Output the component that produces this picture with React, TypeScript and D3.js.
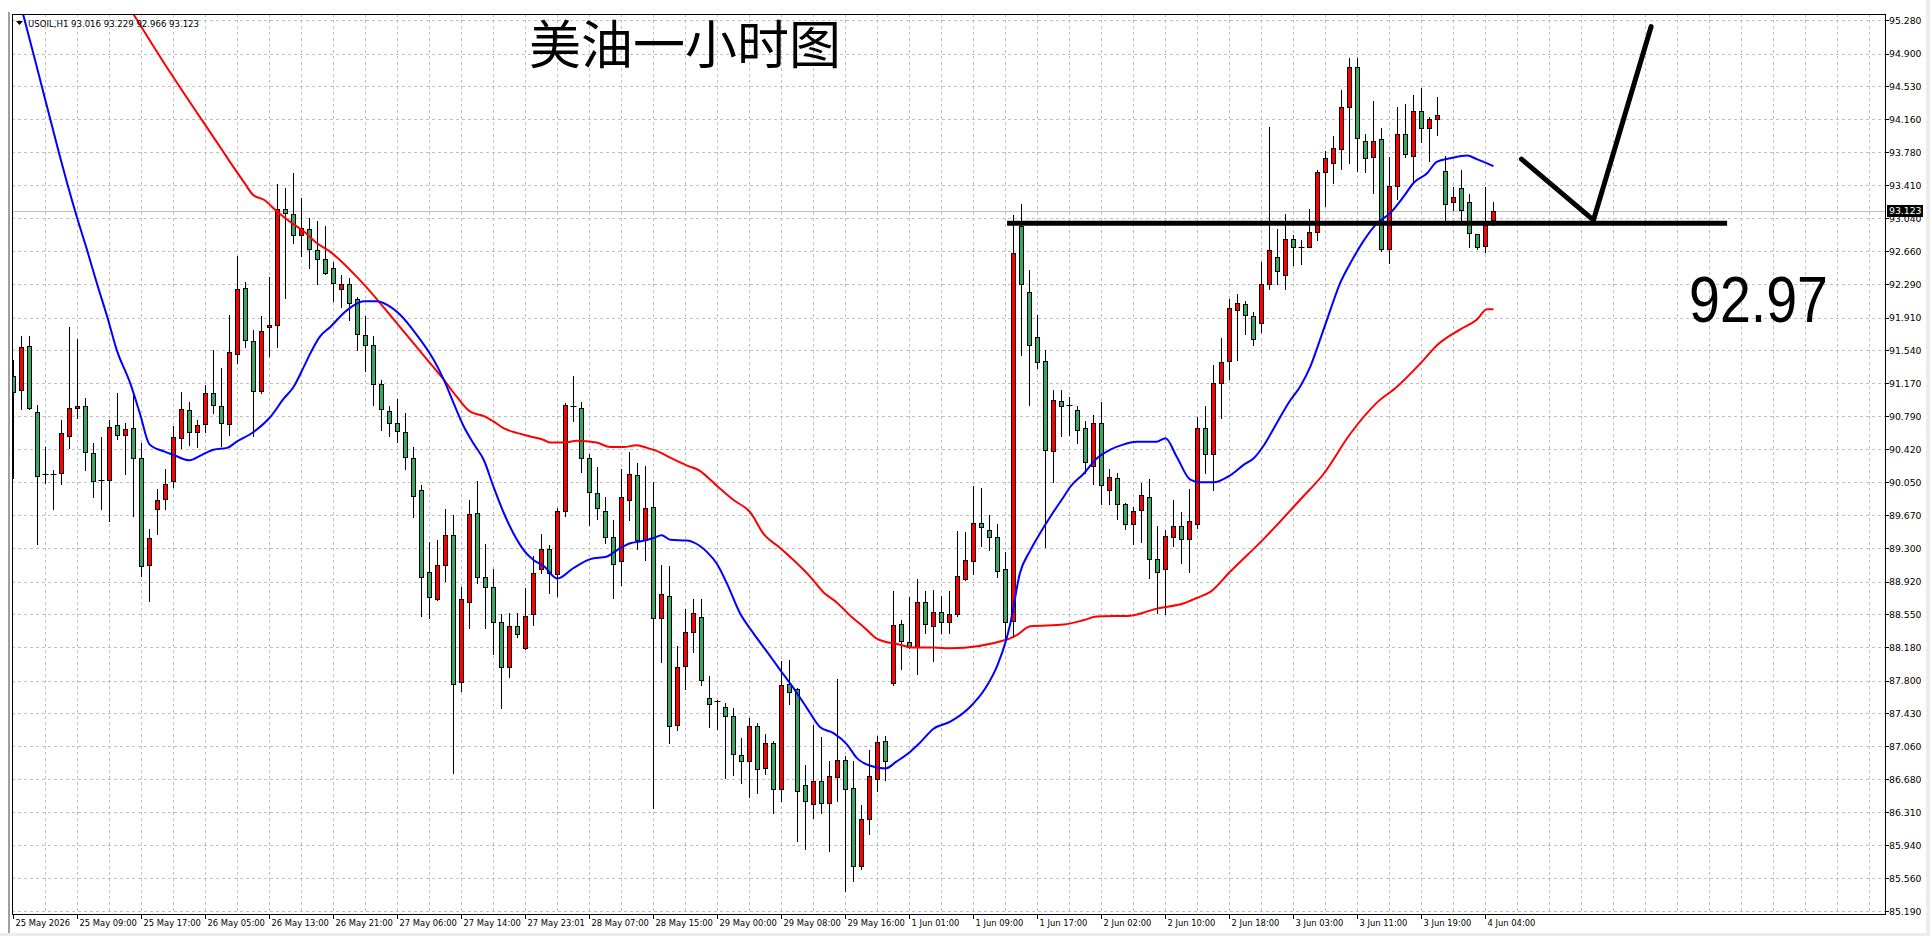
import React from "react";
import * as d3 from "d3";

const W = 1930;
const H = 936;
const frame = { left: 12, top: 14, right: 1885, bottom: 914 };

const header = "USOIL,H1  93.016 93.229 92.966 93.123";
const title = "美油一小时图";
const levelText = "92.97";
const lastPrice = 93.123;

const timeLabels = [
  "25 May 2026", "25 May 09:00", "25 May 17:00", "26 May 05:00", "26 May 13:00",
  "26 May 21:00", "27 May 06:00", "27 May 14:00", "27 May 23:01", "28 May 07:00",
  "28 May 15:00", "29 May 00:00", "29 May 08:00", "29 May 16:00", "1 Jun 01:00",
  "1 Jun 09:00", "1 Jun 17:00", "2 Jun 02:00", "2 Jun 10:00", "2 Jun 18:00",
  "3 Jun 03:00", "3 Jun 11:00", "3 Jun 19:00", "4 Jun 04:00",
];

const priceTicks = [
  95.28, 94.9, 94.53, 94.16, 93.78, 93.41, 93.04, 92.66, 92.29, 91.91, 91.54, 91.17,
  90.79, 90.42, 90.05, 89.67, 89.3, 88.92, 88.55, 88.18, 87.8, 87.43, 87.06, 86.68,
  86.31, 85.94, 85.56, 85.19,
];

// open, high, low, close (one H1 bar each)
const bars: number[][] = [
  [91.25, 91.44, 90.1, 91.07], [91.1, 91.71, 90.88, 91.58], [91.59, 91.71, 90.88, 90.89],
  [90.85, 90.93, 89.35, 90.12], [90.15, 90.45, 90.04, 90.15], [90.15, 90.19, 89.75, 90.15],
  [90.16, 90.76, 90.03, 90.61], [90.58, 91.81, 90.44, 90.89], [90.89, 91.67, 90.78, 90.91],
  [90.91, 91.01, 90.19, 90.39], [90.38, 90.5, 89.88, 90.07], [90.08, 90.56, 89.75, 90.08],
  [90.08, 90.76, 89.61, 90.68], [90.7, 91.06, 90.54, 90.59], [90.59, 90.72, 90.14, 90.65],
  [90.67, 91.04, 89.67, 90.32], [90.32, 90.49, 88.99, 89.1], [89.11, 89.52, 88.71, 89.42],
  [89.75, 89.97, 89.47, 89.85], [89.86, 90.2, 89.75, 90.03], [90.06, 90.69, 90.0, 90.56],
  [90.55, 91.07, 90.44, 90.88], [90.87, 90.96, 90.47, 90.62], [90.62, 90.76, 90.45, 90.7],
  [90.71, 91.15, 90.62, 91.06], [91.06, 91.55, 90.83, 90.93], [90.92, 91.34, 90.46, 90.72],
  [90.71, 91.95, 90.59, 91.53], [91.5, 92.61, 91.4, 92.24], [92.25, 92.32, 91.58, 91.66],
  [91.65, 91.77, 90.57, 91.08], [91.08, 91.93, 91.06, 91.76], [91.81, 92.38, 91.48, 91.83],
  [91.83, 93.43, 91.58, 93.15], [93.14, 93.38, 92.14, 93.1], [93.09, 93.55, 92.76, 92.85],
  [92.85, 93.27, 92.61, 92.93], [92.92, 93.04, 92.48, 92.69], [92.68, 93.01, 92.3, 92.58],
  [92.58, 92.95, 92.41, 92.42], [92.48, 92.55, 92.1, 92.31], [92.24, 92.4, 92.04, 92.3],
  [92.3, 92.36, 91.89, 92.08], [92.13, 92.15, 91.55, 91.73], [91.72, 91.93, 91.31, 91.61],
  [91.6, 91.71, 90.93, 91.16], [91.16, 91.21, 90.64, 90.88], [90.86, 90.91, 90.58, 90.72],
  [90.72, 90.99, 90.51, 90.63], [90.62, 90.83, 90.2, 90.34], [90.32, 90.45, 89.66, 89.9],
  [89.96, 90.02, 88.54, 88.98], [89.04, 89.37, 88.51, 88.75], [88.73, 89.4, 88.72, 89.11],
  [89.11, 89.75, 88.93, 89.45], [89.45, 89.68, 86.76, 87.77], [87.79, 88.87, 87.69, 88.73],
  [88.69, 89.85, 88.4, 89.69], [89.7, 90.07, 88.91, 88.98], [88.98, 89.35, 88.4, 88.86],
  [88.86, 89.07, 88.11, 88.47], [88.47, 88.56, 87.5, 87.96], [87.96, 88.57, 87.84, 88.42],
  [88.42, 88.57, 88.3, 88.33], [88.17, 88.85, 88.16, 88.54], [88.56, 89.22, 88.44, 89.02],
  [89.07, 89.47, 89.02, 89.29], [89.29, 89.34, 88.8, 89.02], [89.01, 89.76, 88.76, 89.73],
  [89.73, 90.95, 89.67, 90.93], [90.92, 91.25, 90.75, 90.92], [90.89, 90.96, 90.17, 90.33],
  [90.32, 90.37, 89.57, 89.94], [89.93, 90.22, 89.64, 89.76], [89.73, 89.88, 89.36, 89.43],
  [89.43, 89.62, 88.74, 89.13], [89.16, 90.2, 88.89, 89.88], [89.85, 90.39, 89.62, 90.14],
  [90.13, 90.27, 89.3, 89.4], [89.4, 90.23, 89.17, 89.76], [89.77, 90.05, 86.36, 88.51],
  [88.51, 89.11, 88.02, 88.78], [88.76, 89.1, 87.1, 87.29], [87.3, 88.2, 87.25, 87.96],
  [87.97, 88.62, 87.71, 88.36], [88.36, 88.73, 88.13, 88.57], [88.53, 88.73, 87.76, 87.81],
  [87.61, 87.86, 87.28, 87.54], [87.57, 87.59, 87.26, 87.57], [87.51, 87.55, 86.7, 87.4],
  [87.4, 87.49, 86.74, 86.97], [86.96, 87.16, 86.65, 86.89], [86.89, 87.38, 86.49, 87.29],
  [87.29, 87.32, 86.53, 86.8], [86.81, 87.2, 86.75, 87.1], [87.1, 87.12, 86.3, 86.58],
  [86.58, 88.03, 86.44, 87.76], [87.77, 88.04, 87.54, 87.68], [87.71, 87.72, 85.99, 86.56],
  [86.62, 86.85, 85.9, 86.44], [86.41, 87.3, 86.25, 86.67], [86.67, 87.17, 86.31, 86.42],
  [86.42, 86.89, 85.87, 86.72], [86.71, 87.82, 86.44, 86.9], [86.91, 86.95, 85.42, 86.58],
  [86.59, 86.89, 85.54, 85.7], [85.71, 86.4, 85.67, 86.24], [86.24, 87.02, 86.07, 86.72],
  [86.69, 87.18, 86.56, 87.11], [87.12, 87.18, 86.68, 86.89], [87.78, 88.82, 87.76, 88.44],
  [88.45, 88.49, 87.94, 88.25], [88.24, 88.75, 88.17, 88.19], [88.19, 88.95, 87.88, 88.69],
  [88.69, 88.82, 88.34, 88.45], [88.42, 88.83, 88.03, 88.58], [88.58, 88.76, 88.34, 88.47],
  [88.47, 88.82, 88.34, 88.56], [88.56, 89.5, 88.54, 88.99], [88.96, 89.49, 88.94, 89.17],
  [89.16, 90.01, 89.01, 89.59], [89.59, 89.99, 89.33, 89.54], [89.51, 89.68, 89.28, 89.43],
  [89.43, 89.58, 88.98, 89.05], [89.07, 89.26, 88.27, 88.47], [88.48, 93.08, 88.3, 92.65],
  [92.95, 93.2, 91.49, 92.3], [92.2, 92.45, 90.93, 91.6], [91.7, 91.95, 91.35, 91.41],
  [91.42, 91.55, 89.32, 90.42], [90.4, 91.1, 90.05, 90.98], [90.97, 91.1, 90.57, 90.92],
  [90.93, 91.02, 90.59, 90.93], [90.87, 90.91, 90.5, 90.64], [90.67, 90.74, 90.16, 90.28],
  [90.24, 90.81, 90.03, 90.72], [90.72, 90.96, 89.81, 90.02], [89.96, 90.2, 89.81, 90.11],
  [90.1, 90.16, 89.64, 89.81], [89.8, 89.82, 89.52, 89.58], [89.58, 89.77, 89.35, 89.73],
  [89.74, 90.04, 89.38, 89.91], [89.88, 90.09, 88.97, 89.18], [89.18, 89.56, 88.57, 89.03],
  [89.07, 89.51, 88.56, 89.44], [89.43, 89.85, 89.33, 89.55], [89.55, 89.71, 89.14, 89.41],
  [89.41, 89.97, 89.03, 89.61], [89.58, 90.79, 89.53, 90.66], [90.66, 90.91, 90.16, 90.37],
  [90.37, 91.38, 89.96, 91.17], [91.17, 91.69, 90.78, 91.41], [91.42, 92.13, 91.22, 92.02],
  [92.0, 92.18, 91.43, 92.08], [92.07, 92.1, 91.73, 91.94], [91.93, 91.98, 91.61, 91.67],
  [91.85, 92.54, 91.75, 92.3], [92.3, 94.07, 92.24, 92.68], [92.6, 92.92, 92.3, 92.44],
  [92.4, 93.09, 92.24, 92.81], [92.81, 92.85, 92.51, 92.71], [92.71, 92.79, 92.52, 92.71],
  [92.72, 93.15, 92.71, 92.89], [92.89, 93.59, 92.79, 93.56], [93.56, 93.8, 93.18, 93.72],
  [93.67, 93.97, 93.44, 93.84], [93.82, 94.49, 93.6, 94.3], [94.3, 94.85, 93.67, 94.75],
  [94.75, 94.85, 93.58, 93.95], [93.92, 94.0, 93.56, 93.72], [93.73, 94.37, 93.33, 93.92],
  [93.94, 94.06, 92.67, 92.69], [92.69, 93.73, 92.53, 93.41], [93.41, 94.3, 93.26, 94.0],
  [94.0, 94.34, 93.73, 93.77], [93.75, 94.44, 93.44, 94.26], [94.26, 94.51, 93.9, 94.06],
  [94.06, 94.19, 93.69, 94.16], [94.16, 94.41, 93.98, 94.21], [93.58, 93.75, 93.02, 93.2],
  [93.23, 93.4, 93.13, 93.28], [93.38, 93.59, 93.02, 93.13], [93.23, 93.32, 92.71, 92.87],
  [92.86, 92.86, 92.69, 92.71], [92.73, 93.4, 92.66, 92.96], [93.016, 93.229, 92.966, 93.123],
];

// moving averages: [bar index, price]
const fastMA: number[][] = [
  [1.2, 95.35], [2.7, 94.83], [5.6, 93.81], [6.7, 93.44], [7.9, 93.06], [9.2, 92.68],
  [10.4, 92.31], [11.7, 91.93], [12.9, 91.55], [14.6, 91.17], [15.8, 90.83], [17.0, 90.48],
  [18.8, 90.4], [20.0, 90.36], [22.0, 90.3], [23.3, 90.35], [25.0, 90.42], [26.7, 90.44],
  [27.9, 90.51], [30.0, 90.62], [32.1, 90.79], [33.8, 91.0], [35.0, 91.13], [36.3, 91.36],
  [37.1, 91.51], [38.3, 91.7], [39.6, 91.81], [41.7, 92.0], [43.8, 92.1], [45.4, 92.1],
  [46.7, 92.06], [48.3, 91.95], [50.4, 91.72], [52.5, 91.44], [53.8, 91.21], [55.0, 90.95],
  [56.3, 90.68], [57.5, 90.49], [58.8, 90.3], [60.0, 90.0], [61.3, 89.7], [62.5, 89.47],
  [63.8, 89.28], [65.0, 89.17], [66.3, 89.1], [68.0, 88.96], [70.0, 89.08], [72.1, 89.18],
  [74.2, 89.21], [75.4, 89.28], [77.1, 89.36], [78.3, 89.38], [80.0, 89.42], [81.0, 89.45],
  [82.1, 89.4], [84.2, 89.39], [85.0, 89.37], [86.7, 89.26], [87.9, 89.13], [89.2, 88.9],
  [90.8, 88.57], [92.5, 88.34], [94.2, 88.13], [95.8, 87.93], [97.5, 87.72], [99.2, 87.49],
  [100.8, 87.28], [102.5, 87.21], [104.2, 87.08], [105.4, 86.93], [107.1, 86.84], [109.0, 86.81],
  [110.4, 86.89], [112.1, 87.0], [113.3, 87.1], [115.0, 87.26], [117.1, 87.34], [119.5, 87.5],
  [121.5, 87.72], [123.0, 87.98], [124.1, 88.27], [124.6, 88.45], [125.8, 89.02], [127.1, 89.28], [128.3, 89.47],
  [129.6, 89.66], [131.3, 89.89], [132.1, 90.0], [133.8, 90.15], [135.4, 90.32], [137.1, 90.42],
  [138.8, 90.48], [140.4, 90.51], [142.9, 90.51], [144.0, 90.55], [145.4, 90.34], [147.1, 90.08],
  [148.3, 90.05], [150.0, 90.05], [152.1, 90.13], [153.8, 90.25], [155.0, 90.32], [156.3, 90.47],
  [157.9, 90.72], [159.6, 90.98], [160.8, 91.13], [162.1, 91.36], [163.3, 91.66], [164.6, 92.0],
  [165.8, 92.3], [167.1, 92.53], [168.8, 92.79], [170.4, 92.98], [172.1, 93.1], [173.8, 93.29],
  [175.0, 93.44], [176.7, 93.55], [177.9, 93.68], [179.6, 93.72], [181.7, 93.75], [182.9, 93.71],
  [185.0, 93.63],
];

const slowMA: number[][] = [
  [15.0, 95.35], [18.6, 94.83], [26.1, 93.81], [27.5, 93.62], [28.8, 93.45], [30.0, 93.3],
  [31.3, 93.25], [32.9, 93.12], [34.6, 93.0], [36.3, 92.89], [37.9, 92.76], [39.6, 92.66],
  [43.3, 92.34], [48.3, 91.81], [51.7, 91.44], [53.8, 91.21], [55.4, 91.02], [57.1, 90.85],
  [58.8, 90.8], [60.0, 90.74], [61.3, 90.66], [62.9, 90.61], [64.6, 90.57], [66.3, 90.53],
  [67.1, 90.5], [68.8, 90.5], [70.4, 90.52], [72.9, 90.5], [74.6, 90.45], [76.3, 90.45],
  [77.9, 90.47], [79.2, 90.44], [80.8, 90.39], [82.1, 90.33], [84.2, 90.24], [85.8, 90.18],
  [87.1, 90.08], [88.3, 89.98], [90.0, 89.85], [92.1, 89.71], [93.8, 89.46], [95.8, 89.31],
  [97.5, 89.17], [99.6, 88.98], [101.3, 88.8], [102.9, 88.69], [104.6, 88.54], [106.3, 88.41],
  [107.9, 88.28], [109.2, 88.24], [110.4, 88.22], [112.5, 88.18], [115.0, 88.18], [117.1, 88.17],
  [124.2, 88.27], [125.4, 88.32], [127.1, 88.42], [131.3, 88.44], [133.8, 88.49], [135.4, 88.53],
  [139.6, 88.54], [142.9, 88.62], [146.3, 88.68], [147.9, 88.74], [149.6, 88.81], [152.1, 89.04],
  [156.5, 89.43], [160.8, 89.85], [163.8, 90.15], [167.1, 90.6], [170.4, 90.95], [172.9, 91.13],
  [176.3, 91.44], [177.9, 91.6], [180.8, 91.78], [182.9, 91.89], [184.2, 92.01], [185.0, 92.01],
];

// hand-drawn annotations: [bar index, price]
const levelLine: number[][] = [[124.2, 92.985], [214.2, 92.985]];
const arrowStroke: number[][] = [[188.5, 93.71], [197.5, 93.02], [204.7, 95.21]];

const UP = "#ff0000";
const DOWN = "#3aa661";
const GRID = "#c0c0c0";
const axisFont = "'DejaVu Sans', Tahoma, sans-serif";

export default function App() {
  const x = d3.scaleLinear().domain([0, 233]).range([13.5, 13.5 + 8 * 233]);
  const y = d3.scaleLinear().domain([85.19, 95.28]).range([911.5, 20.5]);

  const line = d3
    .line<number[]>()
    .x((d) => x(d[0]))
    .y((d) => y(d[1]))
    .curve(d3.curveMonotoneX);
  const straight = d3
    .line<number[]>()
    .x((d) => x(d[0]))
    .y((d) => y(d[1]));

  const vGrid = d3.range(4, 234, 4);
  const snap = (v: number) => Math.round(v) + 0.5;

  return (
    <div style={{ position: "absolute", left: 0, top: 0 }}>
      <svg width={W} height={H} style={{ display: "block", background: "#fff" }}>
        <defs>
          <clipPath id="plot">
            <rect x={frame.left} y={frame.top} width={frame.right - frame.left} height={frame.bottom - frame.top} />
          </clipPath>
        </defs>

        {/* window edges */}
        <line x1={9} x2={9} y1={12} y2={H} stroke="#a0a0a0" strokeWidth={2} />
        <rect x={1926} y={0} width={4} height={H} fill="#ececec" />
        <rect x={0} y={933} width={W} height={3} fill="#ececec" />

        {/* grid */}
        <g stroke={GRID} strokeWidth={1} strokeDasharray="3,3">
          {vGrid.map((i) => (
            <line key={"v" + i} x1={snap(x(i) - 0.5)} x2={snap(x(i) - 0.5)} y1={frame.top} y2={frame.bottom} />
          ))}
          {priceTicks.map((p) => (
            <line key={"h" + p} x1={frame.left} x2={frame.right} y1={snap(y(p) - 0.5)} y2={snap(y(p) - 0.5)} />
          ))}
        </g>

        {/* bid line */}
        <line x1={frame.left} x2={frame.right} y1={snap(y(lastPrice))} y2={snap(y(lastPrice))} stroke="#c0c0c0" strokeWidth={1} />

        <g clipPath="url(#plot)">
          {/* candles */}
          {bars.map((b, i) => {
            const [o, h, l, c] = b;
            const cx = snap(x(i) - 0.5);
            const top = Math.round(y(Math.max(o, c)));
            const bot = Math.round(y(Math.min(o, c)));
            const up = c > o;
            return (
              <g key={i}>
                <line x1={cx} x2={cx} y1={Math.round(y(h))} y2={Math.round(y(l)) + 1} stroke="#000" strokeWidth={1} />
                {bot - top < 1 ? (
                  <line x1={cx - 3} x2={cx + 3} y1={top + 0.5} y2={top + 0.5} stroke="#000" strokeWidth={1} />
                ) : (
                  <rect x={cx - 2} y={top + 0.5} width={4} height={bot - top} fill={up ? UP : DOWN} stroke="#000" strokeWidth={1} />
                )}
              </g>
            );
          })}

          {/* moving averages */}
          <path d={line(slowMA) || ""} fill="none" stroke="#ff0000" strokeWidth={2} />
          <path d={line(fastMA) || ""} fill="none" stroke="#0000ff" strokeWidth={2} />

          {/* annotations */}
          <path d={straight(levelLine) || ""} fill="none" stroke="#000" strokeWidth={5} />
          <path d={straight(arrowStroke) || ""} fill="none" stroke="#000" strokeWidth={5} strokeLinejoin="round" strokeLinecap="round" />
        </g>

        {/* frame */}
        <rect x={frame.left + 0.5} y={frame.top + 0.5} width={frame.right - frame.left} height={frame.bottom - frame.top} fill="none" stroke="#000" strokeWidth={1} />

        {/* price axis */}
        <g fontFamily={axisFont} fontSize={9.3} fill="#000">
          {priceTicks.map((p) => (
            <g key={"t" + p}>
              <line x1={frame.right} x2={frame.right + 4} y1={snap(y(p) - 0.5)} y2={snap(y(p) - 0.5)} stroke="#000" />
              <text x={frame.right + 4} y={y(p)} dy="0.36em">
                {p.toFixed(3)}
              </text>
            </g>
          ))}
          <rect x={frame.right + 2} y={y(lastPrice) - 6} width={36} height={12} fill="#000" />
          <text x={frame.right + 4} y={y(lastPrice)} dy="0.36em" fill="#fff">
            {lastPrice.toFixed(3)}
          </text>
        </g>

        {/* time axis */}
        <g fontFamily={axisFont} fontSize={8.4} fill="#000">
          {timeLabels.map((t, k) => {
            const tx = snap(x(k * 8) - 0.5);
            return (
              <g key={t}>
                <line x1={tx} x2={tx} y1={frame.bottom} y2={frame.bottom + 5} stroke="#000" />
                <text x={tx + 2} y={926}>
                  {t}
                </text>
              </g>
            );
          })}
        </g>

        {/* header */}
        <path d="M16,21 L23,21 L19.5,25 Z" fill="#000" />
        <text x={28} y={26.5} fontFamily={axisFont} fontSize={9} fill="#000" textLength={171} lengthAdjust="spacingAndGlyphs">
          {header}
        </text>

        {/* title and level label */}
        <text x={529} y={64} fontFamily="'Noto Sans CJK SC', sans-serif" fontSize={52} fill="#000">
          {title}
        </text>
        <text x={1689} y={322} fontFamily="'Liberation Sans', Arial, sans-serif" fontSize={64} fill="#000" textLength={139} lengthAdjust="spacingAndGlyphs">
          {levelText}
        </text>
      </svg>
    </div>
  );
}
